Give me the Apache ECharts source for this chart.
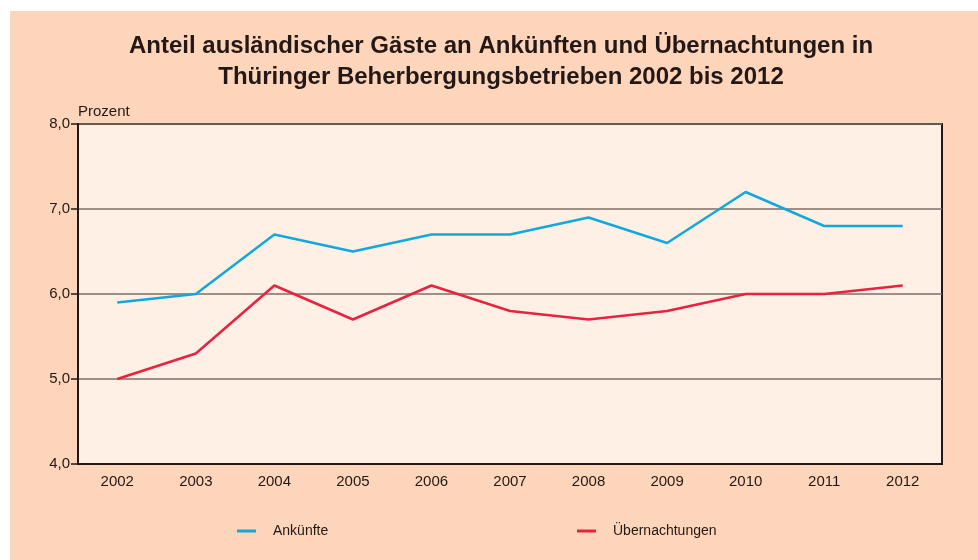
<!DOCTYPE html>
<html>
<head>
<meta charset="utf-8">
<script src="https://cdn.jsdelivr.net/npm/echarts@6/dist/echarts.min.js"></script>
<style>
  html, body { margin: 0; padding: 0; background: #ffffff; }
  #chart {
    position: absolute;
    left: 10px;
    top: 11px;
    width: 968px;
    height: 549px;
    background: #fdd5ba;
  }
</style>
</head>
<body>
<div id="chart"></div>
<script>
// Daten
const jahre = ['2002', '2003', '2004', '2005', '2006', '2007', '2008', '2009', '2010', '2011', '2012']
const ankuenfte = [5.9, 6.0, 6.7, 6.5, 6.7, 6.7, 6.9, 6.6, 7.2, 6.8, 6.8]
const uebernachtungen = [5.0, 5.3, 6.1, 5.7, 6.1, 5.8, 5.7, 5.8, 6.0, 6.0, 6.1]

const textFarbe = '#231815'
const font = '"Liberation Sans", Arial, sans-serif'

const chart = echarts.init(document.getElementById('chart'))
chart.setOption({
  animation: false,
  textStyle: { fontFamily: font },
  title: {
    text: 'Anteil ausländischer Gäste an Ankünften und Übernachtungen in\nThüringer Beherbergungsbetrieben 2002 bis 2012',
    left: 486,
    top: 15,
    textAlign: 'center',
    textStyle: {
      fontFamily: font,
      fontSize: 24,
      fontWeight: 'bold',
      color: textFarbe,
      lineHeight: 31
    }
  },
  legend: [
    {
      data: ['Ankünfte'],
      left: 222,
      top: 508,
      icon: 'rect',
      itemWidth: 19,
      itemHeight: 3,
      textStyle: { fontFamily: font, fontSize: 14, color: textFarbe, padding: [0, 0, 0, 12] }
    },
    {
      data: ['Übernachtungen'],
      left: 562,
      top: 508,
      icon: 'rect',
      itemWidth: 19,
      itemHeight: 3,
      textStyle: { fontFamily: font, fontSize: 14, color: textFarbe, padding: [0, 0, 0, 12] }
    }
  ],
  grid: {
    left: 68,
    top: 113,
    width: 864,
    height: 340,
    show: true,
    backgroundColor: '#fff0e6',
    borderColor: textFarbe,
    borderWidth: 2,
    containLabel: false
  },
  xAxis: {
    type: 'category',
    data: jahre,
    boundaryGap: true,
    axisLine: { lineStyle: { color: textFarbe, width: 2 } },
    axisTick: { show: false },
    axisLabel: { fontFamily: font, fontSize: 15, color: textFarbe, margin: 10 }
  },
  yAxis: {
    type: 'value',
    min: 4,
    max: 8,
    interval: 1,
    name: 'Prozent',
    nameLocation: 'end',
    nameGap: 5,
    nameTextStyle: { fontFamily: font, fontSize: 15, color: textFarbe, align: 'left', padding: [0, 0, 0, 0] },
    axisLine: { show: true, lineStyle: { color: textFarbe, width: 2 } },
    axisTick: { show: true, length: 7, lineStyle: { color: textFarbe, width: 1.5 } },
    axisLabel: {
      fontFamily: font,
      fontSize: 15,
      color: textFarbe,
      margin: 8,
      formatter: v => v.toFixed(1).replace('.', ',')
    },
    splitLine: { show: true, lineStyle: { color: '#7d6e66', width: 1.5 } }
  },
  series: [
    {
      name: 'Ankünfte',
      type: 'line',
      data: ankuenfte,
      color: '#12a8dc',
      symbol: 'none',
      lineStyle: { width: 2.5 }
    },
    {
      name: 'Übernachtungen',
      type: 'line',
      data: uebernachtungen,
      color: '#e8223f',
      symbol: 'none',
      lineStyle: { width: 2.5 }
    }
  ]
})
</script>
</body>
</html>
